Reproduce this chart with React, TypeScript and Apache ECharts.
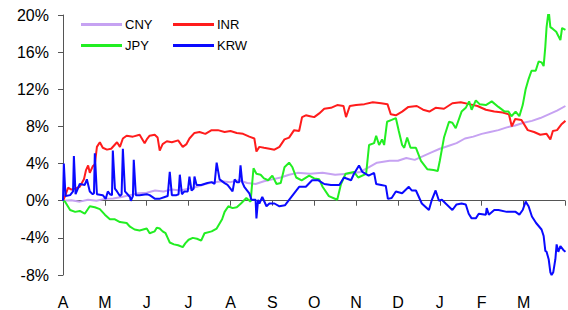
import React, { useEffect, useRef } from "react";
import * as echarts from "echarts";

const monthLabels = ["A", "M", "J", "J", "A", "S", "O", "N", "D", "J", "F", "M", ""];
const seriesNames = ["CNY", "INR", "JPY", "KRW"];
const seriesColors = ["#c6a2f2", "#ff1c1c", "#22ee22", "#0a0aff"];

// [month offset from start of April, % change]
const cny: [number, number][] = [
  [0, 0], [0.2, 0.05], [0.4, -0.1], [0.6, 0.1], [0.8, 0.0], [1.0, 0.2], [1.2, 0.25], [1.4, 0.4], [1.6, 0.6], [1.8, 0.8],
  [2.0, 0.85], [2.2, 1.1], [2.4, 1.0], [2.6, 1.2], [2.8, 1.1], [3.0, 1.3], [3.2, 1.5], [3.4, 1.8], [3.6, 2.0], [3.8, 2.1],
  [4.0, 2.0], [4.2, 2.2], [4.4, 1.9], [4.6, 1.8], [4.8, 2.1], [5.0, 2.3], [5.2, 2.5], [5.4, 2.8], [5.6, 3.0], [5.9, 2.9],
  [6.2, 3.0], [6.5, 2.8], [6.8, 2.9], [7.1, 3.1], [7.3, 3.6], [7.5, 4.1], [7.8, 4.3], [8.0, 4.3], [8.2, 4.6], [8.4, 4.4],
  [8.6, 4.8], [8.8, 5.2], [9.0, 5.6], [9.2, 5.9], [9.4, 6.2], [9.6, 6.7], [9.8, 6.9], [10.0, 7.2], [10.2, 7.4], [10.4, 7.6],
  [10.6, 7.9], [10.8, 8.1], [11.0, 8.4], [11.2, 8.6], [11.4, 8.9], [11.6, 9.3], [11.8, 9.7], [12.0, 10.2],
];

const inr: [number, number][] = [
  [0, 0], [0.05, 0.5], [0.12, 1.4], [0.2, 1.2], [0.29, 1.3], [0.4, 1.5], [0.5, 2.3], [0.55, 3.3], [0.6, 3.8], [0.64, 3.0],
  [0.71, 3.7], [0.76, 3.9], [0.81, 5.8], [0.88, 6.3], [0.95, 5.7], [1.05, 5.5], [1.15, 5.6], [1.29, 6.3], [1.36, 5.8], [1.43, 6.7],
  [1.52, 7.0], [1.67, 6.9], [1.83, 7.1], [1.95, 6.2], [2.0, 6.6], [2.07, 7.0], [2.19, 7.1], [2.26, 6.8], [2.31, 5.4], [2.38, 6.1],
  [2.48, 6.4], [2.6, 6.3], [2.75, 6.5], [2.86, 5.8], [2.95, 6.1], [3.02, 6.7], [3.14, 7.3], [3.26, 7.4], [3.4, 7.2], [3.55, 7.6],
  [3.7, 7.6], [3.86, 7.4], [4.0, 7.5], [4.15, 7.3], [4.3, 7.2], [4.45, 6.9], [4.57, 6.7], [4.62, 5.3], [4.69, 5.8], [4.8, 5.7],
  [4.93, 5.6], [5.05, 5.5], [5.17, 5.8], [5.29, 6.6], [5.4, 6.8], [5.52, 7.6], [5.64, 7.5], [5.71, 9.0], [5.8, 9.2], [5.9, 9.1],
  [6.0, 9.0], [6.12, 9.4], [6.24, 9.9], [6.4, 10.0], [6.55, 10.3], [6.7, 10.2], [6.76, 9.0], [6.85, 10.2], [7.0, 10.3], [7.2, 10.4],
  [7.4, 10.6], [7.6, 10.5], [7.75, 10.4], [7.83, 9.3], [7.95, 9.2], [8.1, 9.6], [8.25, 10.1], [8.45, 10.2], [8.6, 9.8], [8.75, 9.6],
  [8.9, 10.0], [9.1, 9.9], [9.3, 10.5], [9.5, 10.6], [9.7, 10.4], [9.9, 10.2], [10.1, 9.8], [10.3, 9.6], [10.5, 9.5], [10.65, 9.3],
  [10.72, 8.0], [10.8, 8.8], [10.95, 8.7], [11.1, 7.6], [11.25, 7.4], [11.4, 7.1], [11.55, 7.2], [11.64, 6.6], [11.7, 7.5], [11.8, 7.6],
  [11.9, 8.2], [12.0, 8.6],
];

const jpy: [number, number][] = [
  [0, 0], [0.05, -0.1], [0.17, -1.0], [0.29, -1.2], [0.4, -1.1], [0.52, -1.4], [0.64, -0.6], [0.76, -0.7], [0.88, -0.9], [1.0, -1.5],
  [1.12, -2.0], [1.24, -2.0], [1.36, -2.3], [1.52, -2.4], [1.6, -2.8], [1.71, -3.1], [1.83, -3.2], [2.0, -3.0], [2.07, -3.5], [2.19, -3.3],
  [2.24, -2.9], [2.31, -3.0], [2.38, -3.3], [2.45, -3.5], [2.5, -4.0], [2.55, -4.5], [2.65, -4.7], [2.75, -4.8], [2.86, -5.0], [2.92, -4.6],
  [3.0, -4.2], [3.1, -4.0], [3.2, -4.1], [3.3, -4.3], [3.38, -3.5], [3.55, -3.3], [3.67, -3.0], [3.8, -2.0], [3.86, -1.2], [3.95, -0.6],
  [4.05, -0.8], [4.15, -0.7], [4.25, -0.3], [4.38, 0.3], [4.48, -0.1], [4.55, 3.5], [4.62, 2.9], [4.72, 2.8], [4.8, 2.4], [4.9, 2.2],
  [5.0, 2.7], [5.1, 1.8], [5.2, 1.9], [5.29, 3.6], [5.4, 4.1], [5.48, 3.6], [5.57, 2.5], [5.7, 2.2], [5.88, 2.7], [6.0, 2.4],
  [6.12, 2.3], [6.2, 1.5], [6.35, 0.5], [6.55, 0.1], [6.64, 1.8], [6.75, 2.9], [6.95, 3.1], [7.05, 2.5], [7.24, 2.9], [7.31, 6.0],
  [7.43, 6.2], [7.48, 7.0], [7.55, 6.0], [7.62, 6.6], [7.67, 6.0], [7.74, 8.5], [7.85, 8.7], [7.95, 8.9], [8.02, 7.5], [8.1, 6.0],
  [8.15, 5.7], [8.22, 6.8], [8.3, 5.7], [8.43, 5.7], [8.55, 4.3], [8.7, 3.4], [8.85, 3.3], [8.95, 3.2], [9.0, 4.3], [9.1, 6.8],
  [9.22, 8.5], [9.3, 8.4], [9.38, 7.8], [9.52, 9.6], [9.62, 10.0], [9.7, 10.7], [9.76, 9.8], [9.86, 10.8], [9.95, 10.4], [10.1, 10.3],
  [10.24, 10.7], [10.4, 10.1], [10.55, 9.6], [10.64, 9.6], [10.71, 9.1], [10.81, 9.6], [10.9, 9.1], [10.98, 10.3], [11.05, 12.0], [11.12, 13.1],
  [11.19, 14.0], [11.29, 14.0], [11.36, 15.0], [11.43, 14.9], [11.48, 14.5], [11.52, 16.6], [11.55, 18.7], [11.6, 20.5], [11.64, 18.7], [11.7, 18.5],
  [11.78, 18.2], [11.88, 17.3], [11.92, 18.6], [12.0, 18.4],
];

const krw: [number, number][] = [
  [0, 0], [0.02, 4.0], [0.06, 0.5], [0.17, 0.6], [0.24, 1.0], [0.26, 4.8], [0.3, 0.7], [0.4, 1.8], [0.52, 1.7], [0.57, 2.3],
  [0.64, 1.0], [0.71, 0.7], [0.74, 0.8], [0.76, 5.1], [0.81, 0.7], [0.95, 0.6], [1.02, 0.2], [1.07, 1.0], [1.12, 0.7], [1.17, 0.6],
  [1.19, 5.4], [1.24, 1.3], [1.29, 1.0], [1.36, 0.5], [1.4, 0.7], [1.43, 5.6], [1.48, 1.0], [1.52, 0.8], [1.6, 0.4], [1.62, 0.0],
  [1.67, 0.5], [1.69, 4.4], [1.74, 0.6], [1.83, 0.6], [2.0, 0.7], [2.07, 0.6], [2.2, 0.2], [2.3, 0.2], [2.43, 0.4], [2.5, 0.5],
  [2.55, 3.1], [2.6, 0.6], [2.71, 0.6], [2.76, 0.7], [2.79, 2.8], [2.84, 0.7], [2.9, 1.0], [2.98, 1.0], [3.02, 2.6], [3.07, 1.1],
  [3.12, 1.3], [3.14, 2.6], [3.19, 1.7], [3.3, 1.7], [3.45, 1.9], [3.55, 2.0], [3.62, 1.8], [3.67, 4.1], [3.74, 2.3], [3.86, 1.9],
  [3.93, 1.7], [4.05, 1.0], [4.1, 2.3], [4.15, 2.0], [4.21, 2.0], [4.24, 3.8], [4.28, 2.0], [4.33, 1.5], [4.45, 0.8], [4.5, 0.1],
  [4.6, 0.1], [4.62, -1.9], [4.66, 0.1], [4.69, -0.3], [4.76, 0.4], [4.86, -0.6], [4.93, -0.3], [5.05, -0.3], [5.17, -0.6], [5.3, -0.5],
  [5.4, 0.1], [5.52, 0.8], [5.64, 1.5], [5.8, 1.5], [5.95, 2.2], [6.1, 2.2], [6.24, 1.8], [6.4, 1.7], [6.6, 1.7], [6.71, 2.5],
  [6.88, 2.2], [6.95, 2.9], [7.07, 3.8], [7.15, 3.1], [7.3, 2.7], [7.43, 3.0], [7.48, 1.8], [7.6, 1.7], [7.71, 1.6], [7.76, 0.2],
  [7.85, 0.3], [7.95, 1.0], [8.1, 0.8], [8.26, 1.5], [8.33, 1.1], [8.43, 1.1], [8.57, -0.3], [8.74, -1.0], [8.81, 0.1], [8.9, 1.1],
  [8.98, 0.0], [9.05, 0.1], [9.14, -0.3], [9.3, -1.0], [9.4, -0.4], [9.52, -0.3], [9.62, -0.4], [9.69, -1.4], [9.76, -1.9], [9.86, -1.9],
  [9.93, -1.4], [10.1, -1.5], [10.12, -0.8], [10.17, -1.5], [10.3, -1.0], [10.4, -1.0], [10.6, -1.2], [10.81, -1.2], [10.9, -1.5], [10.98, -1.0],
  [11.05, -0.1], [11.12, -0.6], [11.2, -1.7], [11.3, -2.4], [11.43, -3.1], [11.48, -3.8], [11.52, -5.4], [11.55, -5.5], [11.6, -6.3], [11.64, -7.7],
  [11.67, -8.0], [11.71, -7.7], [11.76, -6.3], [11.79, -4.7], [11.83, -5.5], [11.88, -4.9], [11.95, -5.3], [12.0, -5.5],
];

const seriesData = [cny, inr, jpy, krw];
const legendPos = [
  { left: 81, top: 18 },
  { left: 173, top: 18 },
  { left: 81, top: 39 },
  { left: 173, top: 39 },
];

const FONT = "'Liberation Sans', Arial, sans-serif";

export default function App() {
  const ref = useRef<HTMLDivElement>(null);
  useEffect(() => {
    if (!ref.current) return;
    const chart = echarts.init(ref.current, null, { renderer: "svg" });
    chart.setOption({
      animation: false,
      backgroundColor: "#ffffff",
      textStyle: { fontFamily: FONT },
      grid: { left: 63, right: 0, top: 15, bottom: 30, containLabel: false },
      legend: seriesNames.map((n, i) => ({
        data: [{ name: n, icon: "rect" }],
        left: legendPos[i].left,
        top: legendPos[i].top,
        padding: 0,
        itemWidth: 41,
        itemHeight: 3,
        itemGap: 0,
        selectedMode: false,
        textStyle: { fontSize: 13, color: "#000", fontFamily: FONT, padding: [0, 0, 0, -2] },
      })),
      xAxis: {
        type: "value",
        min: 0,
        max: 11.99,
        interval: 1,
        axisLine: { show: true, lineStyle: { color: "#555", width: 1 } },
        axisTick: { show: true, length: 5, lineStyle: { color: "#555" } },
        splitLine: { show: false },
        axisLabel: {
          margin: 19,
          fontSize: 16,
          color: "#000",
          fontFamily: FONT,
          formatter: (v: number) => monthLabels[Math.round(v)] ?? "",
        },
      },
      yAxis: {
        type: "value",
        min: -8,
        max: 20,
        interval: 4,
        axisLine: { show: true, lineStyle: { color: "#555", width: 1 } },
        axisTick: { show: true, length: 5, lineStyle: { color: "#555" } },
        splitLine: { show: false },
        axisLabel: {
          margin: 14,
          fontSize: 16,
          color: "#000",
          fontFamily: FONT,
          formatter: "{value}%",
        },
      },
      series: seriesNames.map((n, i) => ({
        name: n,
        type: "line",
        data: seriesData[i],
        symbol: "none",
        showSymbol: false,
        lineStyle: { color: seriesColors[i], width: 2 },
        itemStyle: { color: seriesColors[i] },
        z: i === 0 ? 2 : 3 + i,
      })),
    });
    return () => chart.dispose();
  }, []);
  return (
    <div
      ref={ref}
      style={{ position: "fixed", left: 0, top: 0, width: 568, height: 310, background: "#fff" }}
    />
  );
}
